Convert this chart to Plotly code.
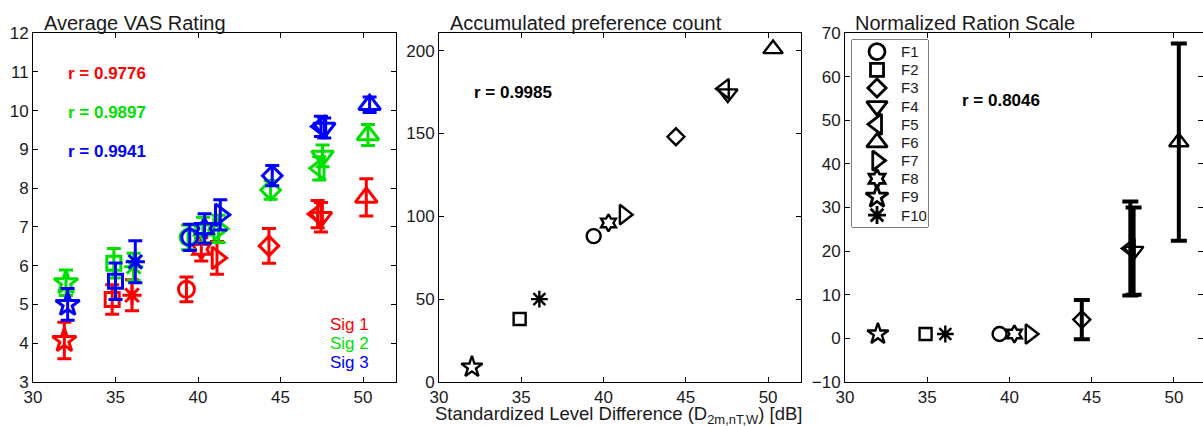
import plotly.graph_objects as go

# ---------------- data ----------------
formats = ["F1", "F2", "F3", "F4", "F5", "F6", "F7", "F8", "F9", "F10"]
level_diff = [39.4, 34.9, 44.4, 47.55, 47.35, 50.3, 41.25, 40.3, 32.0, 36.1]

sig1 = [5.39, 5.13, 6.51, 7.25, 7.33, 7.76, 6.20, 6.42, 4.07, 5.24]
sig1_err = [0.32, 0.38, 0.45, 0.38, 0.35, 0.48, 0.42, 0.30, 0.47, 0.40]
sig2 = [6.73, 6.06, 7.95, 8.83, 8.51, 9.37, 6.95, 6.92, 5.56, 5.97]
sig2_err = [0.32, 0.38, 0.24, 0.28, 0.30, 0.27, 0.35, 0.33, 0.33, 0.35]
sig3 = [6.73, 5.60, 8.32, 9.55, 9.59, 10.15, 7.31, 6.96, 5.00, 6.10]
sig3_err = [0.34, 0.47, 0.26, 0.26, 0.26, 0.20, 0.39, 0.38, 0.41, 0.54]

pref_count = [88, 38, 148, 174, 177, 201, 101, 96, 9, 50]

ratio_scale = [1, 1, 4.3, 20.0, 20.6, 45.0, 1, 1, 1, 1]
ratio_err = [0, 0, 4.5, 10.0, 10.8, 22.6, 0, 0, 0, 0]

r_vas = ["r = 0.9776", "r = 0.9897", "r = 0.9941"]
r_pref = "r = 0.9985"
r_ratio = "r = 0.8046"
sig_names = ["Sig 1", "Sig 2", "Sig 3"]
titles = ["Average VAS Rating", "Accumulated preference count", "Normalized Ration Scale"]

# ---------------- styles ----------------
symbols = ["circle-open", "square-open", "diamond-open", "triangle-down-open",
           "triangle-left-open", "triangle-up-open", "triangle-right-open",
           "hexagram-open", "star-open", "asterisk-open"]
sizes = [14, 12, 13, 17, 17, 17, 17, 13, 16, 14]
legend_sizes = [16, 13, 14, 18, 18, 18, 17, 14, 17, 15]
sig_colors = ["#ff0000", "#00e000", "#0000ff"]
sig_xoff = [-0.1, 0.0, 0.1]
FONT = "Liberation Sans, Arial, Helvetica, sans-serif"

W, H = 1203, 426
ML, MR, MT, MB = 33, 0, 33, 44
pw = W - ML - MR
ph = H - MT - MB


def px_x(p):
    return (p - ML) / pw


def px_y(p):
    return 1 - (p - MT) / ph


fig = go.Figure()

# ---- panel 1: VAS ratings
for k, (vals, errs) in enumerate([(sig1, sig1_err), (sig2, sig2_err), (sig3, sig3_err)]):
    fig.add_trace(go.Scatter(
        x=[v + sig_xoff[k] for v in level_diff], y=vals, mode="markers",
        marker=dict(symbol=symbols, size=[s + 2 for s in sizes], color=sig_colors[k],
                    opacity=1, line=dict(width=3, color=sig_colors[k])),
        error_y=dict(type="data", array=errs, color=sig_colors[k], thickness=3, width=7),
        showlegend=False, xaxis="x", yaxis="y"))

# ---- panel 2: preference count
fig.add_trace(go.Scatter(
    x=level_diff, y=pref_count, mode="markers",
    marker=dict(symbol=symbols, size=sizes, color="black", opacity=1,
                line=dict(width=2.4, color="black")),
    showlegend=False, xaxis="x2", yaxis="y2"))

# ---- panel 3: ratio scale
for i, f in enumerate(formats):
    fig.add_trace(go.Scatter(
        x=[level_diff[i]], y=[ratio_scale[i]], mode="markers", name=f,
        marker=dict(symbol=symbols[i], size=sizes[i], color="black", opacity=1,
                    line=dict(width=2.4, color="black")),
        error_y=dict(type="data", array=[ratio_err[i]], color="black", thickness=4, width=8,
                     visible=ratio_err[i] > 0),
        showlegend=False, xaxis="x3", yaxis="y3"))

# ---- legend (drawn in its own small pixel-scaled axes)
LG_L, LG_R, LG_T, LG_B = 852, 928, 40, 227
leg_y = [11.7 + 18.15 * i for i in range(len(formats))]
fig.add_trace(go.Scatter(
    x=[25] * len(formats), y=leg_y, mode="markers",
    marker=dict(symbol=symbols, size=legend_sizes, color="black", opacity=1,
                line=dict(width=2.8, color="black")),
    showlegend=False, hoverinfo="skip", xaxis="x4", yaxis="y4"))

# ---------------- axes ----------------
axis_common = dict(showline=True, linecolor="black", linewidth=1, mirror="ticks",
                   ticks="inside", ticklen=5, tickcolor="black", showgrid=False,
                   zeroline=False, tickfont=dict(family=FONT, size=17, color="#1a1a1a"))

domains = [(px_x(33), px_x(396)), (px_x(439), px_x(801)), (px_x(845), 1.0)]
xranges = [[30, 52], [30, 52], [30, 51.77]]
yranges = [[3, 12], [0, 210.6], [-10, 70]]
ydticks = [1, 50, 10]

layout = dict(width=W, height=H, margin=dict(l=ML, r=MR, t=MT, b=MB),
              paper_bgcolor="white", plot_bgcolor="white", showlegend=False,
              font=dict(family=FONT, color="black"))
for i in range(3):
    sx = "" if i == 0 else str(i + 1)
    layout["xaxis" + sx] = dict(axis_common, domain=list(domains[i]), range=xranges[i],
                                tickmode="linear", tick0=30, dtick=5,
                                anchor="y" + sx)
    layout["yaxis" + sx] = dict(axis_common, domain=[0, 1], range=yranges[i],
                                tickmode="linear", tick0=0, dtick=ydticks[i],
                                anchor="x" + sx)
layout["xaxis4"] = dict(domain=[px_x(LG_L), px_x(LG_R)], range=[0, LG_R - LG_L],
                        visible=False, fixedrange=True, anchor="y4")
layout["yaxis4"] = dict(domain=[px_y(LG_B), px_y(LG_T)], range=[LG_B - LG_T, 0],
                        visible=False, fixedrange=True, anchor="x4")
fig.update_layout(**layout)

# ---------------- annotations ----------------
ann = []
for i, t in enumerate(titles):
    x0 = [42, 448, 853][i]
    ann.append(dict(text=t, xref="paper", yref="paper", x=px_x(x0), y=px_y(23),
                    xanchor="left", yanchor="middle", showarrow=False,
                    font=dict(family=FONT, size=20, color="#1a1a1a")))
for k in range(3):
    ann.append(dict(text="<b>%s</b>" % r_vas[k], xref="paper", yref="paper",
                    x=px_x(66), y=px_y([73, 112, 151][k]), xanchor="left", yanchor="middle",
                    showarrow=False, font=dict(family=FONT, size=17, color=sig_colors[k])))
    ann.append(dict(text=sig_names[k], xref="paper", yref="paper",
                    x=px_x(371), y=px_y([324, 343, 362][k]), xanchor="right", yanchor="middle",
                    showarrow=False, font=dict(family=FONT, size=17, color=sig_colors[k])))
ann.append(dict(text="<b>%s</b>" % r_pref, xref="paper", yref="paper",
                x=px_x(472), y=px_y(92), xanchor="left", yanchor="middle",
                showarrow=False, font=dict(family=FONT, size=17, color="black")))
ann.append(dict(text="<b>%s</b>" % r_ratio, xref="paper", yref="paper",
                x=px_x(960), y=px_y(100), xanchor="left", yanchor="middle",
                showarrow=False, font=dict(family=FONT, size=17, color="black")))
ann.append(dict(text="Standardized Level Difference (D<sub>2m,nT,W</sub>) [dB]",
                xref="paper", yref="paper", x=px_x(618), y=px_y(415),
                xanchor="center", yanchor="middle", showarrow=False,
                font=dict(family=FONT, size=18.5, color="#1a1a1a")))
for i, f in enumerate(formats):
    ann.append(dict(text=f, xref="x4", yref="y4", x=47, y=leg_y[i],
                    xanchor="left", yanchor="middle", showarrow=False,
                    font=dict(family=FONT, size=15, color="#1a1a1a")))
fig.update_layout(annotations=ann)

fig.update_layout(shapes=[dict(type="rect", xref="paper", yref="paper",
                               x0=px_x(LG_L), x1=px_x(LG_R), y0=px_y(LG_B), y1=px_y(LG_T),
                               line=dict(color="black", width=1), fillcolor="rgba(0,0,0,0)",
                               layer="below")])

fig.write_html("out.html")
